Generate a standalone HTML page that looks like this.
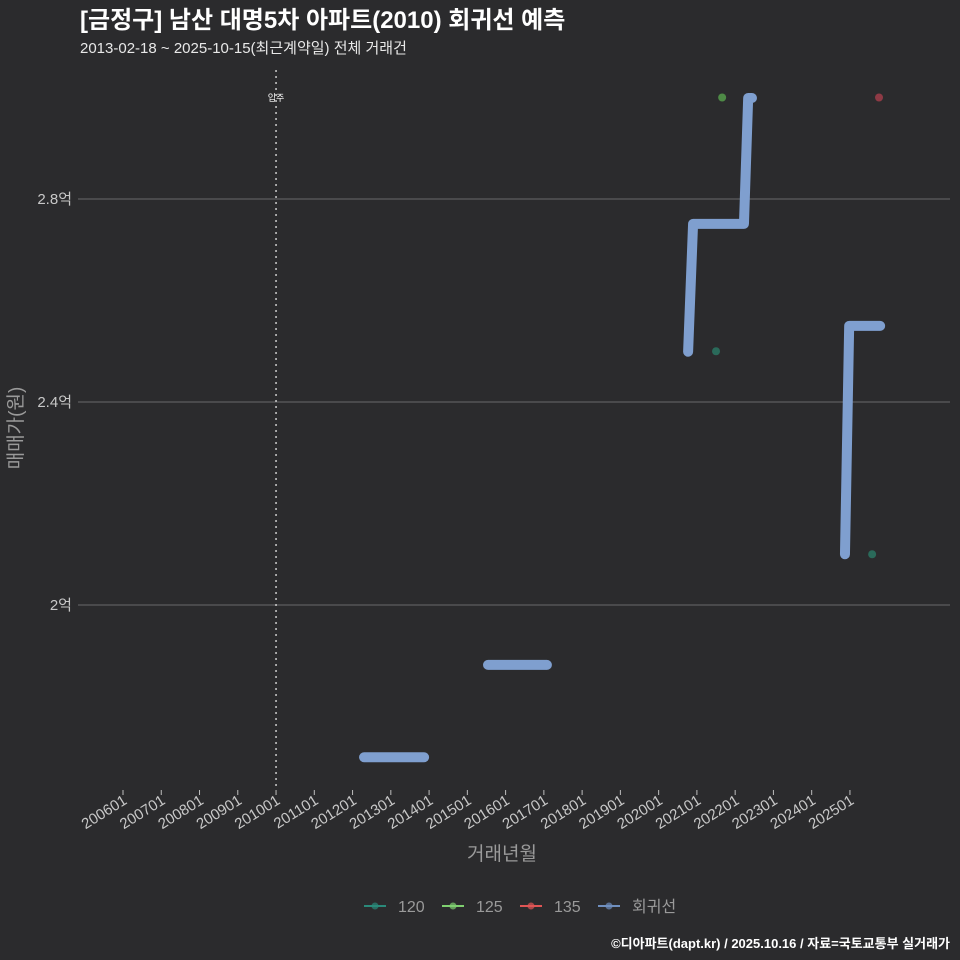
<!DOCTYPE html>
<html><head><meta charset="utf-8">
<style>
html,body{margin:0;padding:0;background:#2b2b2d;}
svg{display:block;font-family:"Liberation Sans","Noto Sans CJK KR",sans-serif;}
</style></head>
<body>
<svg id="chart" width="960" height="960" viewBox="0 0 960 960">
<rect x="0" y="0" width="960" height="960" fill="#2b2b2d"/>
<text x="80" y="28" fill="#ffffff" font-size="24" font-weight="bold">[금정구] 남산 대명5차 아파트(2010) 회귀선 예측</text>
<text x="80" y="53" fill="#e8e8e8" font-size="15">2013-02-18 ~ 2025-10-15(최근계약일) 전체 거래건</text>
<g id="grid"></g>
<g id="marks"></g>
<g id="xaxis"></g>
<g id="yaxis"></g>
<text x="502" y="860" fill="#9a9a9a" font-size="19" text-anchor="middle">거래년월</text>
<text transform="translate(22,428) rotate(-90)" fill="#9a9a9a" font-size="19" text-anchor="middle">매매가(원)</text>
<g id="legend"></g>
<text x="950" y="948" fill="#ffffff" font-size="13" font-weight="bold" text-anchor="end">©디아파트(dapt.kr) / 2025.10.16 / 자료=국토교통부 실거래가</text>
</svg>
<script>
const xTickYears = [2006,2007,2008,2009,2010,2011,2012,2013,2014,2015,2016,2017,2018,2019,2020,2021,2022,2023,2024,2025];
const yTicks = [2.0, 2.4, 2.8];
const yTickLabels = ["2억","2.4억","2.8억"];
const regSeg1X = [2012.30, 2013.87];
const regSeg1Y = [1.70, 1.70];
const regSeg2X = [2015.54, 2017.08];
const regSeg2Y = [1.882, 1.882];
const regSeg3X = [2020.77, 2020.90, 2022.23, 2022.34, 2022.44];
const regSeg3Y = [2.499, 2.751, 2.751, 2.999, 2.999];
const regSeg4X = [2024.87, 2024.98, 2025.79];
const regSeg4Y = [2.10, 2.55, 2.55];
const pts120X = [2021.50, 2025.58];
const pts120Y = [2.50, 2.10];
const pts125X = [2021.66];
const pts125Y = [3.00];
const pts135X = [2025.76];
const pts135Y = [3.00];
const moveInYear = 2010.0;

const NS="http://www.w3.org/2000/svg";
const xs = v => 123 + (v-2006)*38.26;
const ys = v => 605 - (v-2.0)*507.5;
function mk(tag, attrs, parent){const e=document.createElementNS(NS,tag);for(const k in attrs)e.setAttribute(k,attrs[k]);parent.appendChild(e);return e;}
const grid=document.getElementById('grid'), marks=document.getElementById('marks'), xa=document.getElementById('xaxis'), ya=document.getElementById('yaxis'), lg=document.getElementById('legend');

yTicks.forEach((t,i)=>{
  const l=mk('line',{x1:78,x2:950,y1:ys(t),y2:ys(t),stroke:'#6a6a6a','stroke-width':1},grid);
  
  
  const tx=mk('text',{x:72,y:ys(t)+5,fill:'#c8c8c8','font-size':15,'text-anchor':'end'},ya);
  tx.textContent=yTickLabels[i];
  
  
});
xTickYears.forEach(y=>{
  const x=xs(y);
  const tk=mk('line',{x1:x,x2:x,y1:790,y2:795,stroke:'#bdbdbd','stroke-width':1},xa);
  
  
  const tx=mk('text',{transform:`translate(${x+5},${803}) rotate(-32)`,fill:'#c8c8c8','font-size':15,'text-anchor':'end'},xa);
  tx.textContent=y+'01';
  
  
});
const vl=mk('line',{x1:xs(moveInYear),x2:xs(moveInYear),y1:70,y2:790,stroke:'#cccccc','stroke-width':1.5,'stroke-dasharray':'2,4'},marks);


const vt=mk('text',{x:xs(moveInYear),y:101,fill:'#ffffff','font-size':9,'text-anchor':'middle'},marks);
vt.textContent='입주';



[[regSeg1X,regSeg1Y],[regSeg2X,regSeg2Y],[regSeg3X,regSeg3Y],[regSeg4X,regSeg4Y]].forEach(([X,Y])=>{
  const p=mk('polyline',{points:X.map((v,i)=>xs(v)+','+ys(Y[i])).join(' '),fill:'none',stroke:'#7f9fcf','stroke-width':10,'stroke-linecap':'round','stroke-linejoin':'round'},marks);
  
  
});
function dots(X,Y,col,name){X.forEach((v,i)=>{const c=mk('circle',{cx:xs(v),cy:ys(Y[i]),r:4,fill:col},marks);
  
  });}
dots(pts120X,pts120Y,'#2a6a5a','point-120');
dots(pts125X,pts125Y,'#4e8a46','point-125');
dots(pts135X,pts135Y,'#8e3a45','point-135');

const legItems=[['120','#2a8a7a',364],['125','#7fd070',442],['135','#e05555',520],['회귀선','#6f8fbf',598]];
legItems.forEach(([lab,col,x])=>{
  const g=mk('g',{},lg);
  
  
  mk('line',{x1:x,x2:x+22,y1:906,y2:906,stroke:col,'stroke-width':2},g);
  mk('circle',{cx:x+11,cy:906,r:3.5,fill:col,opacity:0.7},g);
  const t=mk('text',{x:x+34,y:912,fill:'#9a9a9a','font-size':16},g);
  t.textContent=lab;
});
</script>
</body></html>
